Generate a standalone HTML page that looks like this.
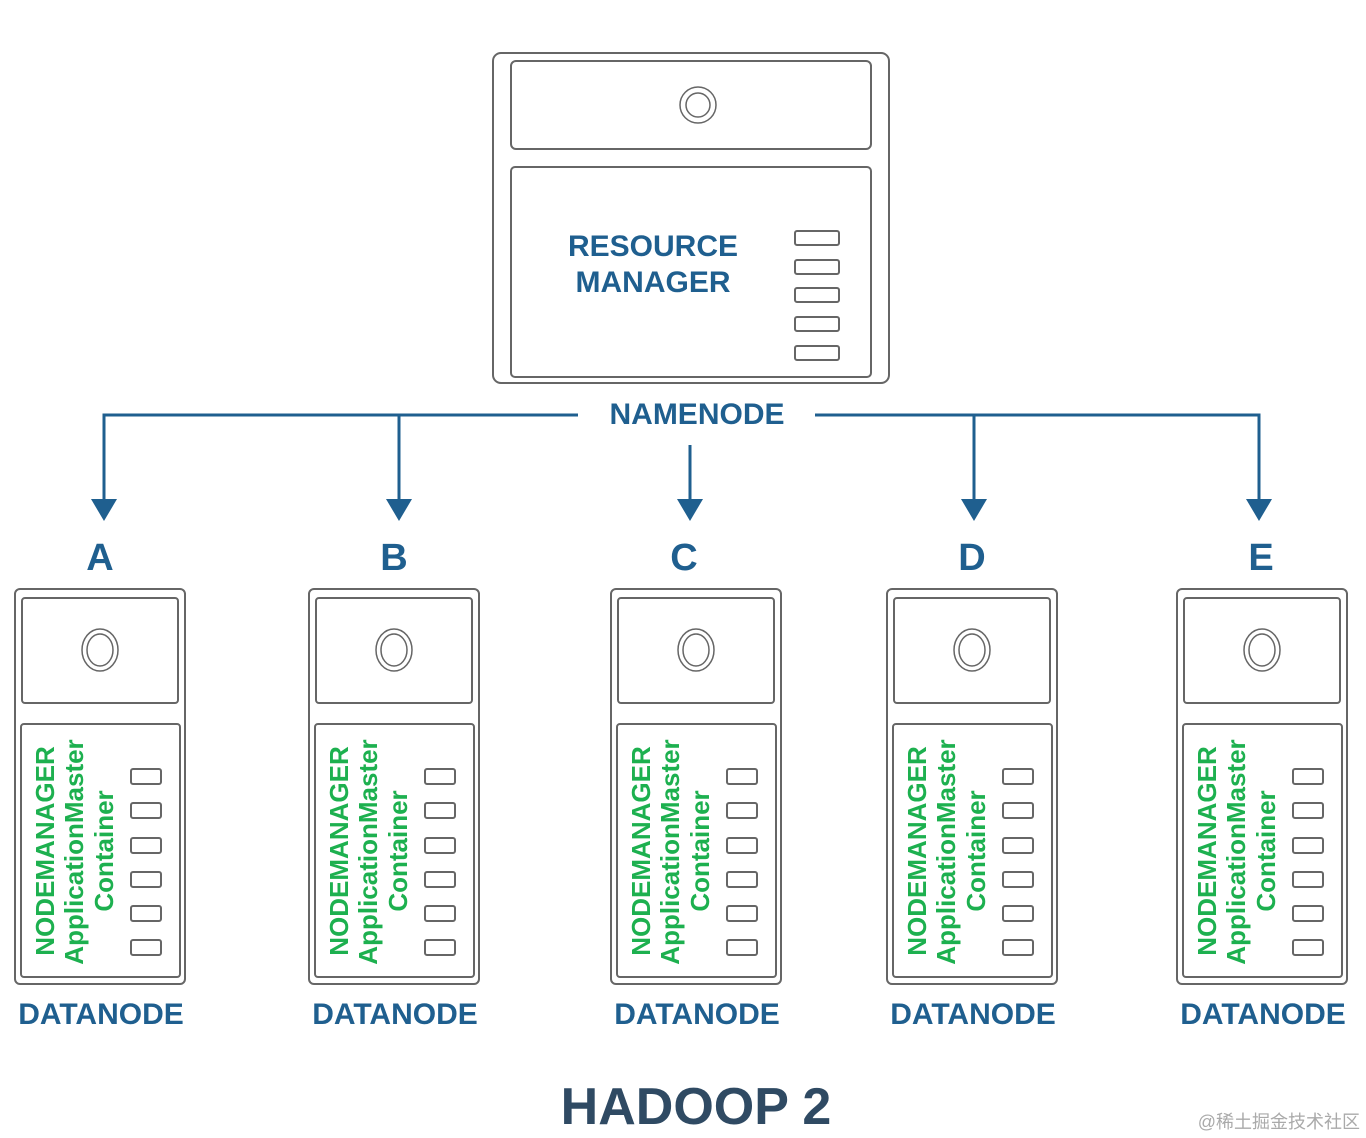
<!DOCTYPE html>
<html><head><meta charset="utf-8"><style>
html,body{margin:0;padding:0;background:#fff;}
svg{display:block;}
.b{font-family:"Liberation Sans",sans-serif;font-weight:bold;fill:#1f5f8f;}
.g{font-family:"Liberation Sans",sans-serif;font-weight:bold;fill:#1db04f;font-size:26px;}
.o{fill:none;stroke:#666;stroke-width:2;}
.ln{stroke:#1f5f8f;stroke-width:3;fill:none;}
.ah{fill:#1f5f8f;}
</style></head><body>
<svg width="1366" height="1138" viewBox="0 0 1366 1138" xmlns="http://www.w3.org/2000/svg">
<rect class="o" x="493" y="53" width="396" height="330" rx="8"/>
<rect class="o" x="511" y="61" width="360" height="88" rx="5"/>
<rect class="o" x="511" y="167" width="360" height="210" rx="4"/>
<circle class="o" cx="698" cy="105" r="18" style="stroke-width:1.5"/>
<circle class="o" cx="698" cy="105" r="12" style="stroke-width:1.5"/>
<g class="o"><rect x="795" y="231" width="44" height="14" rx="2"/><rect x="795" y="260" width="44" height="14" rx="2"/><rect x="795" y="288" width="44" height="14" rx="2"/><rect x="795" y="317" width="44" height="14" rx="2"/><rect x="795" y="346" width="44" height="14" rx="2"/></g>
<text class="b" x="653" y="256" font-size="30" text-anchor="middle">RESOURCE</text>
<text class="b" x="653" y="292" font-size="30" text-anchor="middle">MANAGER</text>
<text class="b" x="697" y="424" font-size="30" text-anchor="middle">NAMENODE</text>
<polyline class="ln" points="104,502 104,415 578,415"/>
<polyline class="ln" points="815,415 1259,415 1259,502"/>
<line class="ln" x1="399" y1="415" x2="399" y2="502"/>
<line class="ln" x1="974" y1="415" x2="974" y2="502"/>
<line class="ln" x1="690" y1="445" x2="690" y2="502"/>
<polygon class="ah" points="91,499 117,499 104,521"/>
<polygon class="ah" points="386,499 412,499 399,521"/>
<polygon class="ah" points="677,499 703,499 690,521"/>
<polygon class="ah" points="961,499 987,499 974,521"/>
<polygon class="ah" points="1246,499 1272,499 1259,521"/>
<g class="b" font-size="38" text-anchor="middle">
<text x="100" y="570">A</text><text x="394" y="570">B</text><text x="684" y="570">C</text><text x="972" y="570">D</text><text x="1261" y="570">E</text>
</g>

<g transform="translate(0,0)">
<rect class="o" x="15" y="589" width="170" height="395" rx="5"/>
<rect class="o" x="22" y="598" width="156" height="105" rx="3"/>
<rect class="o" x="21" y="724" width="159" height="253" rx="3"/>
<ellipse class="o" cx="100" cy="650" rx="18" ry="21" style="stroke-width:1.5"/><ellipse class="o" cx="100" cy="650" rx="13" ry="16" style="stroke-width:1.5"/>
<g class="o"><rect x="131" y="769" width="30" height="15" rx="2"/><rect x="131" y="803" width="30" height="15" rx="2"/><rect x="131" y="838" width="30" height="15" rx="2"/><rect x="131" y="872" width="30" height="15" rx="2"/><rect x="131" y="906" width="30" height="15" rx="2"/><rect x="131" y="940" width="30" height="15" rx="2"/></g>
<text class="g" transform="translate(54,851) rotate(-90)" text-anchor="middle">NODEMANAGER</text>
<text class="g" transform="translate(83,852) rotate(-90)" text-anchor="middle">ApplicationMaster</text>
<text class="g" transform="translate(113,851) rotate(-90)" text-anchor="middle">Container</text>
<text class="b" x="101" y="1024" font-size="30" text-anchor="middle">DATANODE</text>
</g>
<g transform="translate(294,0)">
<rect class="o" x="15" y="589" width="170" height="395" rx="5"/>
<rect class="o" x="22" y="598" width="156" height="105" rx="3"/>
<rect class="o" x="21" y="724" width="159" height="253" rx="3"/>
<ellipse class="o" cx="100" cy="650" rx="18" ry="21" style="stroke-width:1.5"/><ellipse class="o" cx="100" cy="650" rx="13" ry="16" style="stroke-width:1.5"/>
<g class="o"><rect x="131" y="769" width="30" height="15" rx="2"/><rect x="131" y="803" width="30" height="15" rx="2"/><rect x="131" y="838" width="30" height="15" rx="2"/><rect x="131" y="872" width="30" height="15" rx="2"/><rect x="131" y="906" width="30" height="15" rx="2"/><rect x="131" y="940" width="30" height="15" rx="2"/></g>
<text class="g" transform="translate(54,851) rotate(-90)" text-anchor="middle">NODEMANAGER</text>
<text class="g" transform="translate(83,852) rotate(-90)" text-anchor="middle">ApplicationMaster</text>
<text class="g" transform="translate(113,851) rotate(-90)" text-anchor="middle">Container</text>
<text class="b" x="101" y="1024" font-size="30" text-anchor="middle">DATANODE</text>
</g>
<g transform="translate(596,0)">
<rect class="o" x="15" y="589" width="170" height="395" rx="5"/>
<rect class="o" x="22" y="598" width="156" height="105" rx="3"/>
<rect class="o" x="21" y="724" width="159" height="253" rx="3"/>
<ellipse class="o" cx="100" cy="650" rx="18" ry="21" style="stroke-width:1.5"/><ellipse class="o" cx="100" cy="650" rx="13" ry="16" style="stroke-width:1.5"/>
<g class="o"><rect x="131" y="769" width="30" height="15" rx="2"/><rect x="131" y="803" width="30" height="15" rx="2"/><rect x="131" y="838" width="30" height="15" rx="2"/><rect x="131" y="872" width="30" height="15" rx="2"/><rect x="131" y="906" width="30" height="15" rx="2"/><rect x="131" y="940" width="30" height="15" rx="2"/></g>
<text class="g" transform="translate(54,851) rotate(-90)" text-anchor="middle">NODEMANAGER</text>
<text class="g" transform="translate(83,852) rotate(-90)" text-anchor="middle">ApplicationMaster</text>
<text class="g" transform="translate(113,851) rotate(-90)" text-anchor="middle">Container</text>
<text class="b" x="101" y="1024" font-size="30" text-anchor="middle">DATANODE</text>
</g>
<g transform="translate(872,0)">
<rect class="o" x="15" y="589" width="170" height="395" rx="5"/>
<rect class="o" x="22" y="598" width="156" height="105" rx="3"/>
<rect class="o" x="21" y="724" width="159" height="253" rx="3"/>
<ellipse class="o" cx="100" cy="650" rx="18" ry="21" style="stroke-width:1.5"/><ellipse class="o" cx="100" cy="650" rx="13" ry="16" style="stroke-width:1.5"/>
<g class="o"><rect x="131" y="769" width="30" height="15" rx="2"/><rect x="131" y="803" width="30" height="15" rx="2"/><rect x="131" y="838" width="30" height="15" rx="2"/><rect x="131" y="872" width="30" height="15" rx="2"/><rect x="131" y="906" width="30" height="15" rx="2"/><rect x="131" y="940" width="30" height="15" rx="2"/></g>
<text class="g" transform="translate(54,851) rotate(-90)" text-anchor="middle">NODEMANAGER</text>
<text class="g" transform="translate(83,852) rotate(-90)" text-anchor="middle">ApplicationMaster</text>
<text class="g" transform="translate(113,851) rotate(-90)" text-anchor="middle">Container</text>
<text class="b" x="101" y="1024" font-size="30" text-anchor="middle">DATANODE</text>
</g>
<g transform="translate(1162,0)">
<rect class="o" x="15" y="589" width="170" height="395" rx="5"/>
<rect class="o" x="22" y="598" width="156" height="105" rx="3"/>
<rect class="o" x="21" y="724" width="159" height="253" rx="3"/>
<ellipse class="o" cx="100" cy="650" rx="18" ry="21" style="stroke-width:1.5"/><ellipse class="o" cx="100" cy="650" rx="13" ry="16" style="stroke-width:1.5"/>
<g class="o"><rect x="131" y="769" width="30" height="15" rx="2"/><rect x="131" y="803" width="30" height="15" rx="2"/><rect x="131" y="838" width="30" height="15" rx="2"/><rect x="131" y="872" width="30" height="15" rx="2"/><rect x="131" y="906" width="30" height="15" rx="2"/><rect x="131" y="940" width="30" height="15" rx="2"/></g>
<text class="g" transform="translate(54,851) rotate(-90)" text-anchor="middle">NODEMANAGER</text>
<text class="g" transform="translate(83,852) rotate(-90)" text-anchor="middle">ApplicationMaster</text>
<text class="g" transform="translate(113,851) rotate(-90)" text-anchor="middle">Container</text>
<text class="b" x="101" y="1024" font-size="30" text-anchor="middle">DATANODE</text>
</g>

<text x="696" y="1124" font-family="Liberation Sans, sans-serif" font-weight="bold" font-size="52" fill="#2f4a63" text-anchor="middle">HADOOP 2</text>
<text x="1360" y="1128" font-family="Liberation Sans, Noto Sans CJK SC, sans-serif" font-size="18" fill="#aaa" text-anchor="end">@稀土掘金技术社区</text>
</svg>
</body></html>
